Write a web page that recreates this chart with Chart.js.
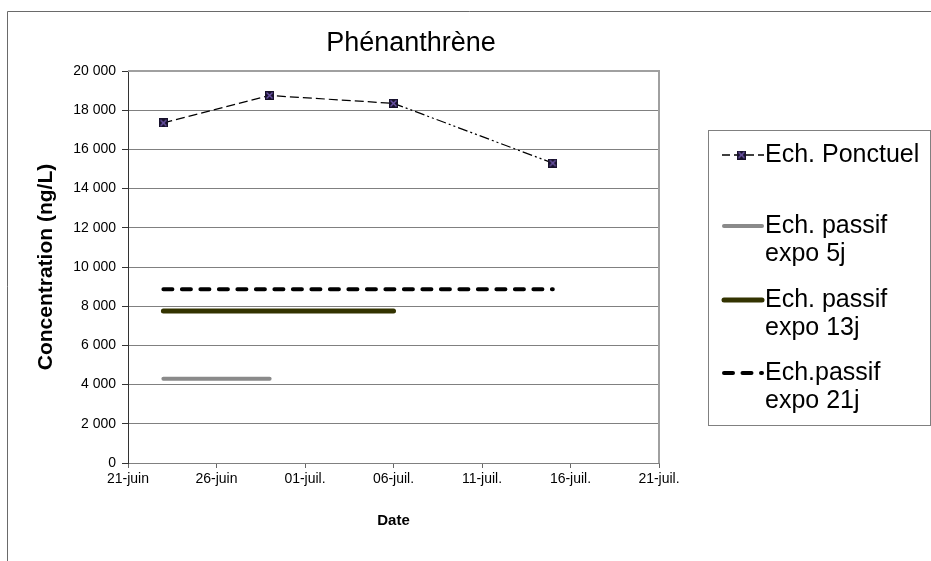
<!DOCTYPE html>
<html>
<head>
<meta charset="utf-8">
<script src="https://cdn.jsdelivr.net/npm/chart.js@4.4.1/dist/chart.umd.min.js"></script>
<style>
  html, body { margin: 0; padding: 0; background: #fff; }
  #wrap { width: 931px; height: 561px; }
</style>
</head>
<body>
<div id="wrap"><canvas id="chart" width="931" height="561"></canvas></div>
<script>
// Dates are "jj/mm", converted to days counted from 21 June
const xTickLabels = ['21-juin', '26-juin', '01-juil.', '06-juil.', '11-juil.', '16-juil.', '21-juil.'];

const ponctuelDates = ['23/06', '29/06', '06/07', '15/07'];
const ponctuelValues = [17350, 18750, 18350, 15300];

const passif5jDates = ['23/06', '29/06'];
const passif5jValues = [4300, 4300];

const passif13jDates = ['23/06', '06/07'];
const passif13jValues = [7750, 7750];

const passif21jDates = ['23/06', '15/07'];
const passif21jValues = [8870, 8870];

const monthOffset = { 6: -21, 7: 9 };
function dayOf(s) {
  const [d, m] = s.split('/').map(Number);
  return d + monthOffset[m];
}
function toPoints(dates, values) {
  return dates.map((d, i) => ({ x: dayOf(d), y: values[i] }));
}

function frNumber(v) {
  return String(v).replace(/\B(?=(\d{3})+(?!\d))/g, ' ');
}

// square marker with a cross, as in the spot-sample series
function makeMarker() {
  const c = document.createElement('canvas');
  c.width = 9; c.height = 9;
  const g = c.getContext('2d');
  g.fillStyle = '#17112b';
  g.fillRect(0, 0, 9, 9);
  g.strokeStyle = '#6e56aa';
  g.lineWidth = 1.4;
  g.beginPath();
  g.moveTo(1.5, 1.5); g.lineTo(7.5, 7.5);
  g.moveTo(7.5, 1.5); g.lineTo(1.5, 7.5);
  g.stroke();
  return c;
}
const marker = makeMarker();

const FONT = "'Liberation Sans', Arial, sans-serif";
Chart.defaults.font.family = FONT;
Chart.defaults.color = '#000';

const plotLeft = 128, plotRight = 659, plotTop = 71, plotBottom = 463;

const decor = {
  id: 'decor',
  beforeDatasetsDraw(chart) {
    const { ctx, chartArea: a } = chart;
    ctx.save();
    ctx.strokeStyle = '#a0a0a0';
    ctx.lineWidth = 2;
    ctx.beginPath();
    ctx.moveTo(a.left, a.top);
    ctx.lineTo(a.right, a.top);
    ctx.lineTo(a.right, a.bottom);
    ctx.stroke();
    ctx.restore();
  },
  afterDraw(chart) {
    const { ctx } = chart;
    ctx.save();
    // outer frame
    ctx.strokeStyle = '#6a6a6a';
    ctx.lineWidth = 1;
    ctx.beginPath();
    ctx.moveTo(7.5, 561);
    ctx.lineTo(7.5, 11.5);
    ctx.lineTo(931, 11.5);
    ctx.stroke();

    // title
    ctx.fillStyle = '#000';
    ctx.font = '27px ' + FONT;
    ctx.textAlign = 'center';
    ctx.textBaseline = 'middle';
    ctx.fillText('Phénanthrène', 411, 44);

    // legend
    const lx = 708.5, ly = 130.5, lw = 222, lh = 295;
    ctx.strokeStyle = '#808080';
    ctx.lineWidth = 1;
    ctx.strokeRect(lx, ly, lw, lh);

    const ds = chart.data.datasets;
    const entries = [
      { d: ds[0], y: 155, lines: ['Ech. Ponctuel'] },
      { d: ds[1], y: 226, lines: ['Ech. passif', 'expo 5j'] },
      { d: ds[2], y: 300, lines: ['Ech. passif', 'expo 13j'] },
      { d: ds[3], y: 373, lines: ['Ech.passif', 'expo 21j'] }
    ];
    ctx.font = '25px ' + FONT;
    ctx.textAlign = 'left';
    entries.forEach((e, i) => {
      ctx.save();
      ctx.strokeStyle = e.d.borderColor;
      ctx.lineWidth = e.d.borderWidth;
      ctx.lineCap = e.d.borderCapStyle || 'butt';
      if (i === 0) {
        ctx.lineWidth = 1.3;
        ctx.setLineDash([8, 4]);
        ctx.beginPath();
        ctx.moveTo(722, e.y); ctx.lineTo(764, e.y);
        ctx.stroke();
        ctx.drawImage(marker, 737, e.y - 4.5);
      } else if (i === 3) {
        ctx.setLineDash(e.d.borderDash);
        ctx.beginPath();
        ctx.moveTo(724, e.y); ctx.lineTo(762, e.y);
        ctx.stroke();
      } else {
        ctx.beginPath();
        ctx.moveTo(724, e.y); ctx.lineTo(762, e.y);
        ctx.stroke();
      }
      ctx.restore();
      e.lines.forEach((t, k) => ctx.fillText(t, 765, e.y + k * 28));
    });
    ctx.restore();
  }
};

new Chart(document.getElementById('chart'), {
  type: 'line',
  data: {
    datasets: [
      {
        label: 'Ech. Ponctuel',
        data: toPoints(ponctuelDates, ponctuelValues),
        borderColor: '#000',
        borderWidth: 1.2,
        borderDash: [9, 4],
        segment: {
          borderDash: c => (c.p0DataIndex === 2 ? [10, 3, 2, 3, 2, 3] : undefined)
        },
        pointStyle: marker,
        pointRadius: 4.5,
        fill: false,
        order: 0
      },
      {
        label: 'Ech. passif expo 5j',
        data: toPoints(passif5jDates, passif5jValues),
        borderColor: '#8a8a8a',
        borderWidth: 4,
        borderCapStyle: 'round',
        pointRadius: 0,
        fill: false,
        order: 3
      },
      {
        label: 'Ech. passif expo 13j',
        data: toPoints(passif13jDates, passif13jValues),
        borderColor: '#333300',
        borderWidth: 5,
        borderCapStyle: 'round',
        pointRadius: 0,
        fill: false,
        order: 2
      },
      {
        label: 'Ech.passif expo 21j',
        data: toPoints(passif21jDates, passif21jValues),
        borderColor: '#000',
        borderWidth: 4,
        borderCapStyle: 'round',
        borderDash: [9, 9.5],
        pointRadius: 0,
        fill: false,
        order: 1
      }
    ]
  },
  options: {
    responsive: false,
    animation: false,
    layout: { padding: { top: plotTop, right: 931 - plotRight, left: 0, bottom: 0 } },
    plugins: {
      legend: { display: false },
      title: { display: false },
      tooltip: { enabled: false }
    },
    scales: {
      x: {
        type: 'linear',
        min: 0,
        max: 30,
        afterFit: s => { s.height = 561 - plotBottom; },
        ticks: {
          stepSize: 5,
          autoSkip: false,
          maxRotation: 0,
          padding: 3,
          font: { size: 14 },
          callback: v => xTickLabels[v / 5]
        },
        grid: { drawOnChartArea: false, tickLength: 5, tickColor: '#666' },
        border: { color: '#808080', width: 1 },
        title: {
          display: true,
          text: 'Date',
          font: { size: 15, weight: 'bold' },
          padding: { top: 0, bottom: 31 }
        }
      },
      y: {
        min: 0,
        max: 20000,
        afterFit: s => { s.width = plotLeft; },
        ticks: {
          stepSize: 2000,
          padding: 6,
          font: { size: 14 },
          callback: v => frNumber(v)
        },
        grid: { color: '#808080', lineWidth: 1, tickLength: 6, tickColor: '#333' },
        border: { color: '#333', width: 1 },
        title: {
          display: true,
          text: 'Concentration (ng/L)',
          font: { size: 21, weight: 'bold' },
          padding: { top: 34, bottom: 0 }
        }
      }
    }
  },
  plugins: [decor]
});
</script>
</body>
</html>
